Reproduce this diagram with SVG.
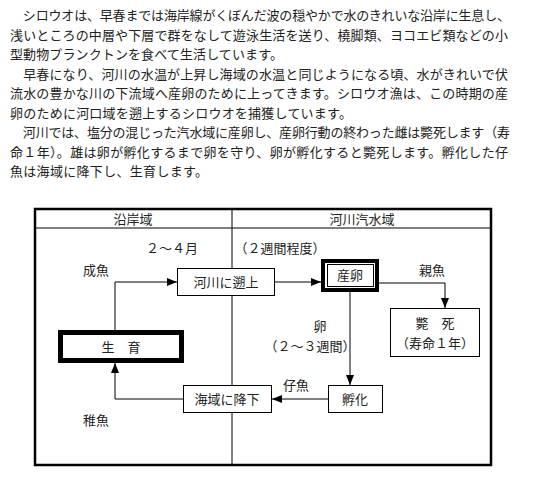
<svg xmlns="http://www.w3.org/2000/svg" width="548" height="484" viewBox="0 0 548 484">
<style>
text { font-family: "Noto Sans CJK JP", "Noto Sans", sans-serif; fill: #222; }
.p { font-size: 13px; }
.t { font-size: 13px; text-anchor: middle; }
.box { fill: #fff; stroke: #000; stroke-width: 1; }
.line { fill: none; stroke: #000; stroke-width: 1; }
</style>
<defs>
<marker id="arr" markerUnits="userSpaceOnUse" markerWidth="10" markerHeight="8" refX="10" refY="4" orient="auto">
<path d="M0,0 L10,4 L0,8 z" fill="#000"/>
</marker>
</defs>
<rect width="548" height="484" fill="#fff"/>
<g id="paragraph">
<text class="p" x="10" y="20" textLength="500" lengthAdjust="spacing">　シロウオは、早春までは海岸線がくぼんだ波の穏やかで水のきれいな沿岸に生息し、</text>
<text class="p" x="10" y="39.5" textLength="498" lengthAdjust="spacing">浅いところの中層や下層で群をなして遊泳生活を送り、橈脚類、ヨコエビ類などの小</text>
<text class="p" x="10" y="59" textLength="273" lengthAdjust="spacing">型動物プランクトンを食べて生活しています。</text>
<text class="p" x="10" y="78.5" textLength="498" lengthAdjust="spacing">　早春になり、河川の水温が上昇し海域の水温と同じようになる頃、水がきれいで伏</text>
<text class="p" x="10" y="98" textLength="498" lengthAdjust="spacing">流水の豊かな川の下流域へ産卵のために上ってきます。シロウオ漁は、この時期の産</text>
<text class="p" x="10" y="117.5" textLength="342" lengthAdjust="spacing">卵のために河口域を遡上するシロウオを捕獲しています。</text>
<text class="p" x="10" y="137" textLength="500" lengthAdjust="spacing">　河川では、塩分の混じった汽水域に産卵し、産卵行動の終わった雌は斃死します（寿</text>
<text class="p" x="10" y="156.5" textLength="498" lengthAdjust="spacing">命１年）。雄は卵が孵化するまで卵を守り、卵が孵化すると斃死します。孵化した仔</text>
<text class="p" x="10" y="176" textLength="198" lengthAdjust="spacing">魚は海域に降下し、生育します。</text>
</g>
<g id="frame">
<rect x="35" y="209" width="456" height="256" fill="none" stroke="#000" stroke-width="2.5"/>
<line x1="35" y1="228" x2="491" y2="228" stroke="#000" stroke-width="1"/>
<line x1="232" y1="209" x2="232" y2="465" stroke="#000" stroke-width="1"/>
<text class="t" x="133" y="224">沿岸域</text>
<text class="t" x="362" y="224">河川汽水域</text>
</g>
<g id="labels">
<text class="t" x="172" y="253">２～４月</text>
<text class="t" x="280" y="253">（２週間程度）</text>
<text class="t" x="96" y="275">成魚</text>
<text class="t" x="432" y="275">親魚</text>
<text class="t" x="320" y="331">卵</text>
<text class="t" x="310" y="351">（２～３週間）</text>
<text class="t" x="296" y="390">仔魚</text>
<text class="t" x="96" y="425">稚魚</text>
</g>
<g id="connectors">
<path class="line" d="M115,330 V282 H177" marker-end="url(#arr)"/>
<path class="line" d="M275,282 H321" marker-end="url(#arr)"/>
<path class="line" d="M379,283 H445 V308" marker-end="url(#arr)"/>
<path class="line" d="M350,292 V385" marker-end="url(#arr)"/>
<path class="line" d="M328,399 H272" marker-end="url(#arr)"/>
<path class="line" d="M183,399 H115 V363" marker-end="url(#arr)"/>
</g>
<g id="node-seiiku">
<rect x="60.5" y="332.5" width="121" height="28" fill="#fff" stroke="#000" stroke-width="5"/>
<text class="t" x="121" y="352">生　育</text>
</g>
<g id="node-sojo">
<rect class="box" x="177.5" y="268.5" width="97" height="27"/>
<text class="t" x="226" y="287">河川に遡上</text>
</g>
<g id="node-sanran">
<rect x="323" y="261" width="54" height="29" fill="#fff" stroke="#000" stroke-width="4"/>
<rect x="327.5" y="264.5" width="46" height="22" fill="none" stroke="#000" stroke-width="1"/>
<text class="t" x="350" y="280">産卵</text>
</g>
<g id="node-heishi">
<rect class="box" x="390.5" y="308.5" width="89" height="48"/>
<text class="t" x="435" y="328">斃　死</text>
<text class="t" x="435" y="348">（寿命１年）</text>
</g>
<g id="node-fuka">
<rect class="box" x="328.5" y="385.5" width="54" height="27"/>
<text class="t" x="355" y="404">孵化</text>
</g>
<g id="node-koka">
<rect class="box" x="183.5" y="385.5" width="88" height="27"/>
<text class="t" x="227" y="404">海域に降下</text>
</g>
</svg>
